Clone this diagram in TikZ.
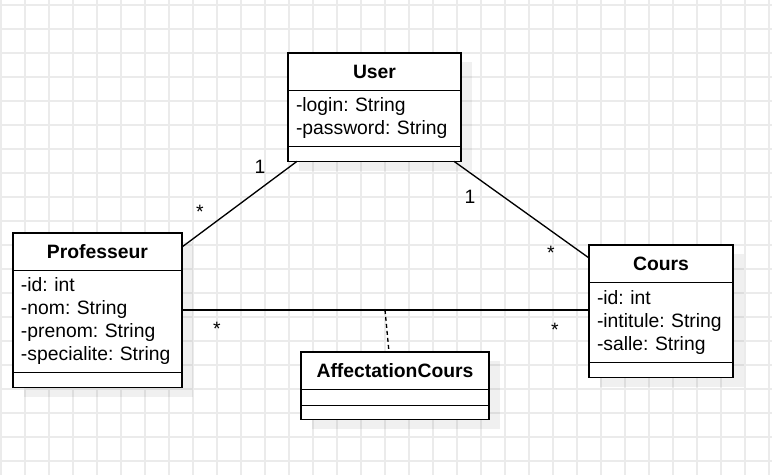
\documentclass[tikz,border=0pt]{standalone}
\usepackage{fontspec}
\setmainfont{Liberation Sans}
\usetikzlibrary{positioning,backgrounds}
\definecolor{gridgray}{RGB}{235,235,235}
\tikzset{umlbox/.style={draw, line width=1.2pt, fill=white, outer sep=0pt, inner sep=0pt},
    classhead/.style={umlbox, anchor=north west, minimum height=28pt, font=\bfseries},
    classattr/.style={umlbox, inner xsep=6pt, align=left, below=0pt of #1},
    classfoot/.style={umlbox, minimum height=11.25pt, below=0pt of #1},
    mult/.style={inner sep=0pt},
    assoc/.style={line width=1pt},
    boxshadow/.style={fill=black, opacity=0.06},
    }

\begin{document}
\frenchspacing
\fontsize{14.5}{17.25}\selectfont
\begin{tikzpicture}[x=0.75pt,y=-0.75pt]
	\useasboundingbox (0,0) rectangle (772,475);
	% classes
	\node[classhead, minimum width=129.75pt] (user-h) at (288,53) {User};
	\node[classattr=user-h, text width=117.75pt, minimum height=42pt] (user-a) {-login: String\\-password: String};
	\node[classfoot=user-a, minimum width=129.75pt] (user-m) {};
	\node[classhead, minimum width=126.75pt] (prof-h) at (13,233) {Professeur};
	\node[classattr=prof-h, text width=114.75pt, minimum height=76.5pt] (prof-a) {-id: int\\-nom: String\\-prenom: String\\-specialite: String};
	\node[classfoot=prof-a, minimum width=126.75pt] (prof-m) {};
	\node[classhead, minimum width=108pt] (cours-h) at (589,245) {Cours};
	\node[classattr=cours-h, text width=96pt, minimum height=60pt] (cours-a) {-id: int\\-intitule: String\\-salle: String};
	\node[classfoot=cours-a, minimum width=108pt] (cours-m) {};
	\node[classhead, minimum width=141pt] (aff-h) at (301,352) {AffectationCours};
	\node[classattr=aff-h, text width=129pt, minimum height=12pt] (aff-a) {};
	\node[classfoot=aff-a, minimum width=141pt, minimum height=10.5pt] (aff-m) {};
	% associations
	\draw[assoc] ([xshift=6.75pt]user-m.south west) -- ([yshift=-10.5pt]prof-h.north east);
	\draw[assoc] ([xshift=-5.25pt]user-m.south east) -- ([yshift=-9.75pt]cours-h.north west);
	\coordinate (link) at (385,310);
	\draw[assoc] (prof-a.east |- link) -- (cours-a.west |- link);
	\draw[assoc, dash pattern=on 3pt off 2.25pt] (link) -- ([xshift=-4.5pt]aff-h.north);
	% multiplicities
	\node[mult] (m-user-prof) at (260,167) {1};
	\node[mult] (m-prof-user) at (200,212) {*};
	\node[mult] (m-user-cours) at (470,197) {1};
	\node[mult] (m-cours-user) at (551,253) {*};
	\node[mult] (m-prof-cours) at (217,329) {*};
	\node[mult] (m-cours-prof) at (555,330) {*};
	% grid and shadows
	\begin{pgfonlayer}{background}
	\foreach \x in {1,25,...,769} \draw[gridgray, line width=1.5pt] (\x,0) -- (\x,475);
	\foreach \y in {5,29,...,461} \draw[gridgray, line width=1.5pt] (0,\y) -- (772,\y);
	\foreach \c in {user,prof,cours,aff}
		\fill[boxshadow] ([shift={(8pt,-7pt)}]\c-h.north west) rectangle ([shift={(8pt,-7pt)}]\c-m.south east);
	\end{pgfonlayer}
\end{tikzpicture}
\end{document}
